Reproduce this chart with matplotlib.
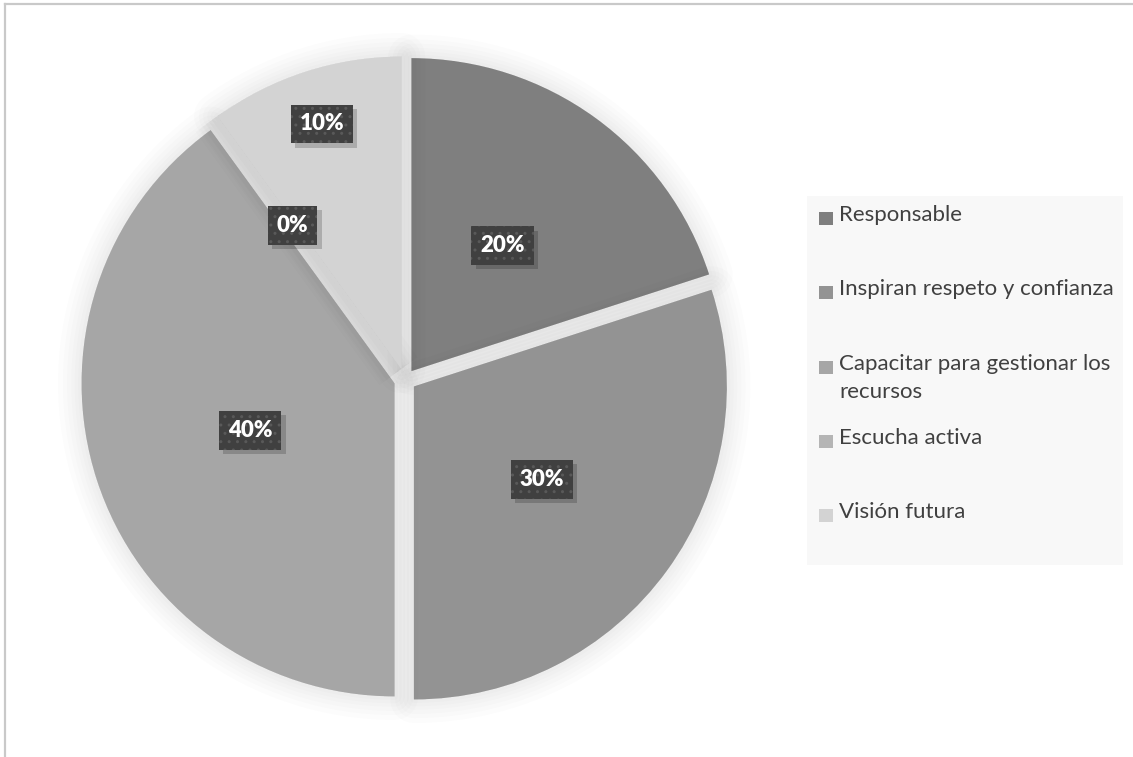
import matplotlib.pyplot as plt
import matplotlib.patheffects as pe
from matplotlib.patches import Rectangle
from matplotlib.lines import Line2D
import numpy as np

plt.rcParams['font.family'] = ['Lato', 'DejaVu Sans']

categorias = ['Responsable', 'Inspiran respeto y confianza',
              'Capacitar para gestionar los\nrecursos', 'Escucha activa', 'Visión futura']
valores = [20, 30, 40, 0, 10]
colores = ['#7f7f7f', '#939393', '#a6a6a6', '#b5b5b5', '#d3d3d3']
# distance of each percentage box from the centre, in pie radii
dist_etiqueta = [0.53, 0.54, 0.52, 0.61, 0.86]

W, H = 1133, 757
fig = plt.figure(figsize=(W / 100, H / 100), dpi=100)
fig.patch.set_facecolor('white')

# chart area border (top and left edges)
fig.add_artist(Line2D([5 / W, 5 / W], [0, 1 - 4 / H], color='#c9c9c9', lw=1.6))
fig.add_artist(Line2D([5 / W, 1], [1 - 4 / H, 1 - 4 / H], color='#c9c9c9', lw=1.6))

# pie axes: centre at (405, 380) px, radius 313 px
cx, cy, r, half = 405, 380, 313, 350
ax = fig.add_axes([(cx - half) / W, (H - cy - half) / H, 2 * half / W, 2 * half / H])
ax.axis('off')

wedges, texts = ax.pie(valores, colors=colores, startangle=90, counterclock=False,
                       explode=[0.035] * len(valores), radius=1,
                       wedgeprops=dict(linewidth=0))
lim = half / r
ax.set_xlim(-lim, lim)
ax.set_ylim(-lim, lim)
ax.set_aspect('equal')

# soft shadow around the slices
sombra = [pe.Stroke(linewidth=w, foreground='black', alpha=0.013, joinstyle='round')
          for w in (34, 27, 21, 15, 10, 5)]
for w in wedges:
    w.set_path_effects(sombra + [pe.Normal()])

total = sum(valores)
for w, v, d in zip(wedges, valores, dist_etiqueta):
    ang = np.deg2rad((w.theta1 + w.theta2) / 2)
    t = ax.text(d * np.cos(ang), d * np.sin(ang), f'{v / total:.0%}',
                ha='center', va='center', color='white', fontsize=16, fontweight='heavy',
                bbox=dict(boxstyle='square,pad=0.4', facecolor='#404040',
                          edgecolor='#595959', linewidth=0, hatch='..'))
    t.get_bbox_patch().set_path_effects([
        pe.SimplePatchShadow(offset=(3, -3), shadow_rgbFace='black', alpha=0.18, hatch=None),
        pe.Normal()])

# legend panel
fig.add_artist(Rectangle((807 / W, 1 - 565 / H), (1123 - 807) / W, (565 - 196) / H,
                         transform=fig.transFigure, facecolor='#f8f8f8', edgecolor='none'))
y0, paso = 218, 74.3
for i, (cat, col) in enumerate(zip(categorias, colores)):
    y = y0 + i * paso
    fig.add_artist(Rectangle((819 / W, 1 - (y + 7) / H), 14 / W, 13 / H,
                             transform=fig.transFigure, facecolor=col, edgecolor='none'))
    fig.text(839 / W, 1 - (y - 13) / H, cat, ha='left', va='top', fontsize=16,
             color='#404040', linespacing=1.55)

fig.savefig('out.png', dpi=100)
